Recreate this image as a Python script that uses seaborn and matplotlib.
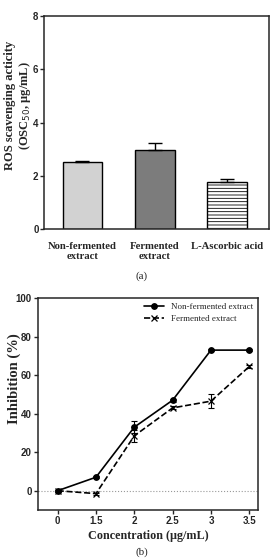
import numpy as np
import pandas as pd
import seaborn as sns
import matplotlib.pyplot as plt

# (a) ROS scavenging activity
bar_labels = ['Non-fermented\nextract', 'Fermented\nextract', 'L-Ascorbic acid']
bar_values = [2.52, 2.97, 1.77]
bar_errors = [0.05, 0.25, 0.13]
bar_colors = ['#d2d2d2', '#7c7c7c', '#ffffff']

# (b) inhibition vs concentration
conc = ['0', '1.5', '2', '2.5', '3', '3.5']
nonferm = [0, 7, 33, 47, 73, 73]
nonferm_err = [0.5, 0.5, 3, 0.8, 0.6, 0.6]
ferm = [0, -1.5, 28.5, 43, 46.5, 64.5]
ferm_err = [0.5, 0.5, 3, 0.8, 3.5, 0.6]

sns.set_style('ticks')
plt.rcParams['font.family'] = ['Liberation Sans', 'DejaVu Sans']
plt.rcParams['hatch.linewidth'] = 0.6
serif = ['Liberation Serif', 'DejaVu Serif']

fig = plt.figure(figsize=(2.72, 5.59), dpi=100)

# ---------- top panel ----------
ax1 = fig.add_axes([0.162, 0.590, 0.827, 0.381])
df_bar = pd.DataFrame({'sample': bar_labels, 'value': bar_values})
sns.barplot(data=df_bar, x='sample', y='value', hue='sample', palette=bar_colors,
            width=0.55, edgecolor='black', linewidth=1.0, legend=False, ax=ax1)
ax1.patches[2].set_hatch('-----')
ax1.errorbar(np.arange(len(bar_values)), bar_values, yerr=[np.zeros(3), bar_errors],
             fmt='none', ecolor='black', elinewidth=1.0, capsize=5, capthick=1.0)
ax1.set_ylim(0, 8)
ax1.set_xlim(-0.53, 2.58)
ax1.set_yticks([0, 2, 4, 6, 8])
ax1.tick_params(axis='y', length=3, width=1, labelsize=7, pad=1)
ax1.tick_params(axis='x', length=0, pad=9)
for t in ax1.get_yticklabels():
    t.set_fontweight('bold')
ax1.set_xticks(range(3))
ax1.set_xticklabels(bar_labels, family=serif, fontweight='bold', fontsize=7.7, linespacing=1.15)
ax1.set_xlabel('')
ax1.set_ylabel('ROS scavenging acticity\n(OSC$_{50}$, μg/mL)', family=serif,
               fontweight='bold', fontsize=9, linespacing=1.1)
ax1.yaxis.set_label_coords(-0.05, 0.58)
for s in ax1.spines.values():
    s.set_linewidth(1.1)
fig.text(0.52, 1 - 276 / 559, '(a)', family=serif, fontsize=8, ha='center', va='center')

# ---------- bottom panel ----------
ax2 = fig.add_axes([0.140, 0.0877, 0.809, 0.379])
df_line = pd.DataFrame({
    'conc': conc * 2,
    'inhib': nonferm + ferm,
    'group': ['Non-fermented extract'] * len(conc) + ['Fermented extract'] * len(conc),
})
sns.pointplot(data=df_line, x='conc', y='inhib', hue='group', palette=['black', 'black'],
              markers=['o', 'x'], linestyles=['-', '--'], errorbar=None,
              markersize=4, linewidth=1.2, ax=ax2)
ax2.errorbar(np.arange(len(conc)), nonferm, yerr=nonferm_err, fmt='none',
             ecolor='black', elinewidth=0.8, capsize=2.5, capthick=0.8)
ax2.errorbar(np.arange(len(conc)), ferm, yerr=ferm_err, fmt='none',
             ecolor='black', elinewidth=0.8, capsize=2.5, capthick=0.8)
ax2.axhline(0, color='#999999', linestyle=':', linewidth=0.8, zorder=0)
ax2.set_ylim(-10, 100)
ax2.set_xlim(-0.51, 5.23)
ax2.set_yticks([0, 20, 40, 60, 80, 100])
ax2.tick_params(axis='both', length=3, width=1, labelsize=7, pad=1.5)
for t in ax2.get_yticklabels() + ax2.get_xticklabels():
    t.set_fontweight('bold')
ax2.set_xlabel('Concentration (μg/mL)', family=serif, fontweight='bold', fontsize=8.7, labelpad=3)
ax2.set_ylabel('Inhibition (%)', family=serif, fontweight='bold', fontsize=10.5)
ax2.yaxis.set_label_coords(-0.076, 0.62)
for s in ax2.spines.values():
    s.set_linewidth(1.1)
ax2.legend(loc='upper right', frameon=False, prop={'family': serif, 'size': 6.5},
           handlelength=2.2, borderaxespad=0.15, labelspacing=0.35, handletextpad=0.8)
fig.text(0.52, 1 - 552 / 559, '(b)', family=serif, fontsize=8, ha='center', va='center')

fig.savefig('out.png', dpi=100)
